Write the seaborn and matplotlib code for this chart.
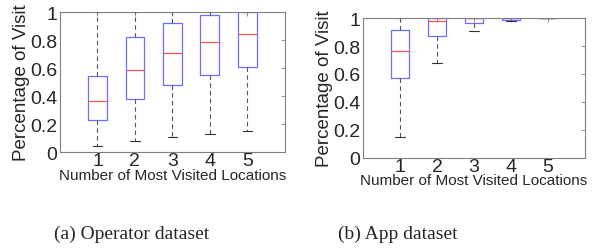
import matplotlib
matplotlib.use("Agg")
import matplotlib.pyplot as plt
import numpy as np
import pandas as pd
import seaborn as sns

# five-number summaries, per number of locations
locations = [1, 2, 3, 4, 5]

op_low = [0.047, 0.078, 0.109, 0.128, 0.149]
op_q1 = [0.232, 0.380, 0.476, 0.552, 0.611]
op_med = [0.367, 0.585, 0.706, 0.787, 0.841]
op_q3 = [0.545, 0.825, 0.924, 0.976, 1.000]
op_high = [1.000, 1.000, 1.000, 1.000, 1.000]

app_low = [0.147, 0.680, 0.905, 0.976, 1.000]
app_q1 = [0.574, 0.870, 0.962, 0.988, 1.000]
app_med = [0.764, 0.976, 1.000, 1.000, 1.000]
app_q3 = [0.917, 1.000, 1.000, 1.000, 1.000]
app_high = [1.000, 1.000, 1.000, 1.000, 1.000]

captions = ["(a) Operator dataset", "(b) App dataset"]


def to_frame(low, q1, med, q3, high):
    rows = []
    for i, k in enumerate(locations):
        for v in (low[i], q1[i], med[i], q3[i], high[i]):
            rows.append({"k": k, "v": v})
    return pd.DataFrame(rows)


sns.set_style("white")
plt.rcParams['font.family'] = ['Liberation Sans', 'DejaVu Sans']

fig = plt.figure(figsize=(5.97, 2.51), dpi=100)
ax1 = fig.add_axes([0.1005, 0.390, 0.3765, 0.558])
ax2 = fig.add_axes([0.608, 0.367, 0.372, 0.557])

frames = [to_frame(op_low, op_q1, op_med, op_q3, op_high),
          to_frame(app_low, app_q1, app_med, app_q3, app_high)]

for ax, df in zip([ax1, ax2], frames):
    sns.boxplot(data=df, x="k", y="v", ax=ax, native_scale=True, width=0.5,
                whis=np.inf, fill=False, showfliers=False,
                boxprops=dict(color="#6f6fff", linewidth=0.9),
                medianprops=dict(color="#ff5050", linewidth=0.9),
                whiskerprops=dict(color="#555555", linestyle=(0, (4, 3)), linewidth=0.8),
                capprops=dict(color="#333333", linewidth=0.8))
    ax.set_xlim(0, 6)
    ax.set_ylim(0, 1)
    ax.set_xticks(locations)
    ax.set_yticks([0, 0.2, 0.4, 0.6, 0.8, 1])
    ax.set_yticklabels(["0", "0.2", "0.4", "0.6", "0.8", "1"])
    ax.tick_params(direction="in", length=3, width=0.6, color="#808080",
                   labelsize=14, pad=2, top=True, right=True)
    ax.tick_params(axis="x", pad=0)
    for s in ax.spines.values():
        s.set_color("#808080")
        s.set_linewidth(0.8)
    ax.set_xlabel("Number of Most Visited Locations", fontsize=11, labelpad=-1)
    ax.set_ylabel("Percentage of Visit", fontsize=13.5, labelpad=0)

fig.text(0.221, 0.068, captions[0], ha="center", va="center", fontsize=14,
         family=["Liberation Serif", "DejaVu Serif"])
fig.text(0.667, 0.068, captions[1], ha="center", va="center", fontsize=14,
         family=["Liberation Serif", "DejaVu Serif"])

fig.savefig("out.png", dpi=100)
